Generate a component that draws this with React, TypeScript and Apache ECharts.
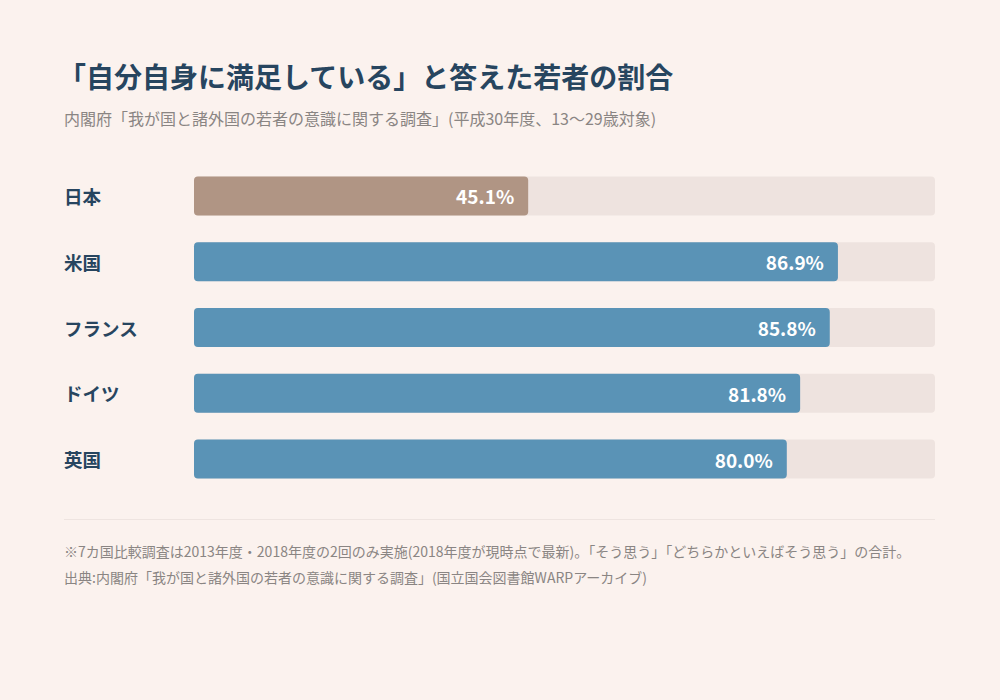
import React, { useEffect, useRef } from "react";
import * as echarts from "echarts";

const categories = ["日本", "米国", "フランス", "ドイツ", "英国"];
const values = [45.1, 86.9, 85.8, 81.8, 80.0];
const highlight = "日本";

const title = "「自分自身に満足している」と答えた若者の割合";
const subtitle = "内閣府「我が国と諸外国の若者の意識に関する調査」(平成30年度、13～29歳対象)";
const note1 = "※7カ国比較調査は2013年度・2018年度の2回のみ実施(2018年度が現時点で最新)。「そう思う」「どちらかといえばそう思う」の合計。";
const note2 = "出典:内閣府「我が国と諸外国の若者の意識に関する調査」(国立国会図書館WARPアーカイブ)";

const FONT = "'Noto Sans CJK JP', 'Noto Sans', sans-serif";

export default function App() {
  const ref = useRef<HTMLDivElement>(null);
  useEffect(() => {
    if (!ref.current) return;
    const chart = echarts.init(ref.current, null, { renderer: "svg" });
    chart.setOption({
      animation: false,
      backgroundColor: "#FBF2EE",
      textStyle: { fontFamily: FONT },
      title: [
        {
          text: title,
          left: 53,
          top: 57,
          textStyle: { fontFamily: FONT, fontSize: 28, fontWeight: "bold", color: "#27455F" },
        },
        {
          text: subtitle,
          left: 59,
          top: 105,
          textStyle: { fontFamily: FONT, fontSize: 16, fontWeight: "normal", color: "#8A8583" },
        },
        {
          text: note1,
          left: 59,
          top: 539,
          textStyle: { fontFamily: FONT, fontSize: 14, fontWeight: "normal", color: "#8A8583" },
        },
        {
          text: note2,
          left: 59,
          top: 565,
          textStyle: { fontFamily: FONT, fontSize: 14, fontWeight: "normal", color: "#8A8583" },
        },
      ],
      graphic: [
        {
          type: "line",
          shape: { x1: 64, y1: 519.5, x2: 935, y2: 519.5 },
          style: { stroke: "#EEE4E0", lineWidth: 1 },
        },
      ],
      grid: { left: 194, right: 65, top: 163, bottom: 208, containLabel: false },
      xAxis: {
        type: "value",
        min: 0,
        max: 100,
        show: false,
      },
      yAxis: {
        type: "category",
        inverse: true,
        data: categories,
        axisLine: { show: false },
        axisTick: { show: false },
        splitLine: { show: false },
        axisLabel: {
          align: "left",
          margin: 130,
          fontFamily: FONT,
          fontSize: 18.5,
          fontWeight: "bold",
          color: "#27455F",
        },
      },
      series: [
        {
          type: "bar",
          barWidth: 39,
          data: values.map((v, i) => ({
            value: v,
            itemStyle: {
              color: categories[i] === highlight ? "#B09584" : "#5A93B6",
            },
          })),
          itemStyle: { borderRadius: 4 },
          showBackground: true,
          backgroundStyle: { color: "#EEE3DF", borderRadius: 4 },
          label: {
            show: true,
            position: "insideRight",
            distance: 14,
            formatter: (p: any) => p.value.toFixed(1) + "%",
            fontFamily: FONT,
            fontSize: 19,
            fontWeight: "bold",
            color: "#FFFFFF",
          },
        },
      ],
    });
    return () => chart.dispose();
  }, []);
  return <div ref={ref} style={{ width: 1000, height: 700, position: "absolute", left: 0, top: 0 }} />;
}
